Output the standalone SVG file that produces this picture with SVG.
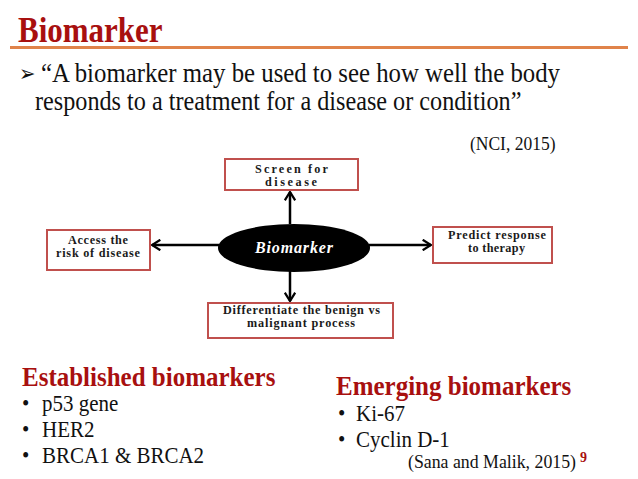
<svg xmlns="http://www.w3.org/2000/svg" width="638" height="479" viewBox="0 0 638 479">
<defs>
<style>
.t{font-family:"Liberation Serif","Times New Roman",serif;}
.red{fill:#a8100f;font-weight:bold;}
.body{fill:#111;font-size:24.2px;}
.box{fill:#fff;stroke:#c0504d;stroke-width:2;}
.bt{font-family:"Liberation Serif","Times New Roman",serif;font-weight:bold;font-size:12.2px;fill:#1a1a1a;text-anchor:middle;}
.conn{stroke:#000;stroke-width:2.5;fill:none;}
</style>
<marker id="ah" viewBox="0 0 12 12" refX="10" refY="6" markerWidth="5" markerHeight="5" orient="auto" markerUnits="strokeWidth">
<path d="M2,1 L10,6 L2,11" fill="none" stroke="#000" stroke-width="2.2"/>
</marker>
</defs>
<rect width="638" height="479" fill="#fff"/>
<text class="t red" transform="translate(18,42) scale(1,1.15)" font-size="31">Biomarker</text>
<line x1="10" y1="47.5" x2="628" y2="47.5" stroke="#e0834a" stroke-width="3"/>
<text class="t" fill="#111" transform="translate(19,81) scale(1,1.12)" font-size="20">➢</text>
<text class="t body" transform="translate(41,82) scale(1,1.12)" textLength="519" lengthAdjust="spacingAndGlyphs">“A biomarker may be used to see how well the body</text>
<text class="t body" transform="translate(35,110) scale(1,1.12)">responds to a treatment for a disease or condition”</text>
<text class="t" transform="translate(470,150) scale(1,1.1)" font-size="17.5" fill="#111">(NCI, 2015)</text>

<g id="connectors">
<line class="conn" x1="290" y1="224" x2="290" y2="192" marker-end="url(#ah)"/>
<line class="conn" x1="369" y1="245" x2="431" y2="245" marker-end="url(#ah)"/>
<line class="conn" x1="219" y1="245" x2="152" y2="245" marker-end="url(#ah)"/>
<line class="conn" x1="290" y1="271" x2="290" y2="301" marker-end="url(#ah)"/>
</g>

<g id="biomarker">
<ellipse cx="294" cy="248" rx="76" ry="24" fill="#000"/>
<text x="294" y="253" font-family="Liberation Serif,serif" font-weight="bold" font-style="italic" font-size="16" fill="#fff" text-anchor="middle" textLength="78" lengthAdjust="spacing">Biomarker</text>
</g>
<g id="screen">
<rect class="box" x="225" y="159" width="133" height="31"/>
<text class="bt" x="291.5" y="173" textLength="73" lengthAdjust="spacing">Screen for</text>
<text class="bt" x="291" y="186" textLength="52" lengthAdjust="spacing">disease</text>
</g>
<g id="access">
<rect class="box" x="47" y="230" width="103" height="40"/>
<text class="bt" x="98" y="243.5" textLength="60" lengthAdjust="spacing">Access the</text>
<text class="bt" x="98" y="256.5" textLength="84" lengthAdjust="spacing">risk of disease</text>
</g>
<g id="predict">
<rect class="box" x="433" y="227" width="119" height="36"/>
<text class="bt" x="497" y="238.5" textLength="98" lengthAdjust="spacing">Predict response</text>
<text class="bt" x="496.5" y="252" textLength="57" lengthAdjust="spacing">to therapy</text>
</g>
<g id="differentiate">
<rect class="box" x="208" y="303" width="185" height="35"/>
<text class="bt" x="301.5" y="314" textLength="157" lengthAdjust="spacing">Differentiate the benign vs</text>
<text class="bt" x="301" y="327" textLength="108" lengthAdjust="spacing">malignant process</text>
</g>

<text class="t red" transform="translate(22,386) scale(1,1.12)" font-size="25">Established biomarkers</text>
<g class="t" font-size="21" fill="#111">
<text transform="translate(22,411) scale(1,1.12)">•</text><text transform="translate(42,411) scale(1,1.12)">p53 gene</text>
<text transform="translate(22,437) scale(1,1.12)">•</text><text transform="translate(42,437) scale(1,1.12)">HER2</text>
<text transform="translate(22,463) scale(1,1.12)">•</text><text transform="translate(42,463) scale(1,1.12)">BRCA1 &amp; BRCA2</text>
</g>
<text class="t red" transform="translate(336,395) scale(1,1.12)" font-size="25">Emerging biomarkers</text>
<g class="t" font-size="21" fill="#111">
<text transform="translate(338,421) scale(1,1.12)">•</text><text transform="translate(356,421) scale(1,1.12)">Ki-67</text>
<text transform="translate(338,447) scale(1,1.12)">•</text><text transform="translate(356,447) scale(1,1.12)">Cyclin D-1</text>
</g>
<text class="t" transform="translate(408,468) scale(1,1.1)" font-size="17.8" fill="#111">(Sana and Malik, 2015)</text>
<text class="t red" x="580" y="462" font-size="14">9</text>
</svg>
